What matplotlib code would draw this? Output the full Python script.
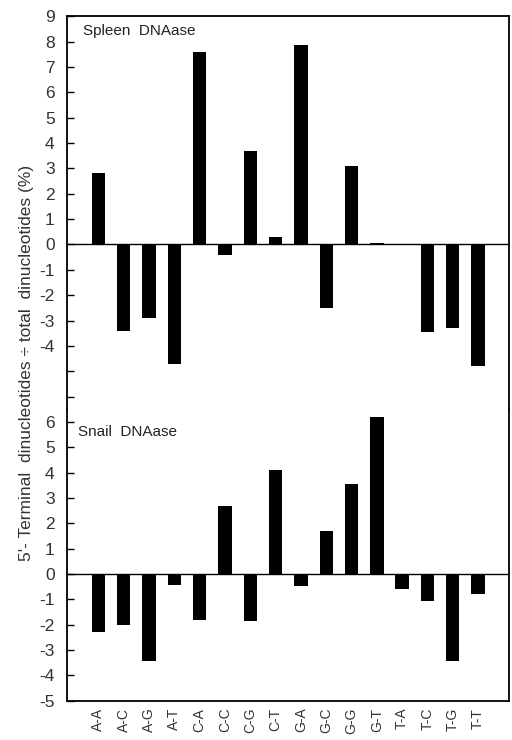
import numpy as np
import matplotlib
matplotlib.use("Agg")
import matplotlib.pyplot as plt

plt.rcParams['font.family'] = ['Liberation Sans', 'DejaVu Sans']

dinucleotides = ["A-A", "A-C", "A-G", "A-T", "C-A", "C-C", "C-G", "C-T",
                 "G-A", "G-C", "G-G", "G-T", "T-A", "T-C", "T-G", "T-T"]
spleen = [2.8, -3.4, -2.9, -4.7, 7.6, -0.4, 3.7, 0.3,
          7.85, -2.5, 3.1, 0.05, 0.0, -3.45, -3.3, -4.8]
snail = [-2.3, -2.0, -3.45, -0.45, -1.8, 2.7, -1.85, 4.1,
         -0.47, 1.7, 3.55, 6.2, -0.6, -1.05, -3.45, -0.8]

x = np.arange(len(dinucleotides))

fig = plt.figure(figsize=(5.12, 7.40), dpi=100)
gs = fig.add_gridspec(2, 1, height_ratios=[15.5, 11.5], hspace=0,
                      left=0.131, right=0.994, top=0.978, bottom=0.053)
ax1 = fig.add_subplot(gs[0])
ax2 = fig.add_subplot(gs[1], sharex=ax1)

ax1.bar(x, spleen, width=0.53, color='black')
ax2.bar(x, snail, width=0.53, color='black')

for ax in (ax1, ax2):
    ax.axhline(0, color='black', lw=1.0)
    ax.set_xlim(-1.24, 16.22)
    for s in ax.spines.values():
        s.set_linewidth(1.3)
    ax.tick_params(axis='y', direction='in', length=5, width=1, labelsize=12.5,
                   pad=9, colors='black')
    ax.tick_params(axis='y', labelcolor='#333333')

ax1.set_ylim(-6.5, 9)
ax1.set_yticks(np.arange(-6, 10))
ax1.set_yticklabels([str(v) if v >= -4 else "" for v in range(-6, 10)])
ax1.spines['bottom'].set_visible(False)
ax1.tick_params(axis='x', bottom=False, labelbottom=False)

ax2.set_ylim(-5, 6.5)
ax2.set_yticks(np.arange(-5, 7))
ax2.set_yticklabels([str(v) for v in range(-5, 7)])
ax2.spines['top'].set_visible(False)
ax2.set_xticks(x)
ax2.set_xticklabels(dinucleotides, rotation=90, fontsize=10, color='#333333')
ax2.tick_params(axis='x', length=0, pad=5)

ax1.text(0.035, 0.98, "Spleen  DNAase", transform=ax1.transAxes,
         fontsize=11, va='top', ha='left', color='#222222')
ax2.text(0.025, 0.945, "Snail  DNAase", transform=ax2.transAxes,
         fontsize=11, va='top', ha='left', color='#222222')

fig.text(0.052, 0.509, "5'- Terminal  dinucleotides \u00f7 total  dinucleotides (%)",
         rotation=90, va='center', ha='center', fontsize=12.5, color='#333333')

fig.savefig("out.png", dpi=100)
